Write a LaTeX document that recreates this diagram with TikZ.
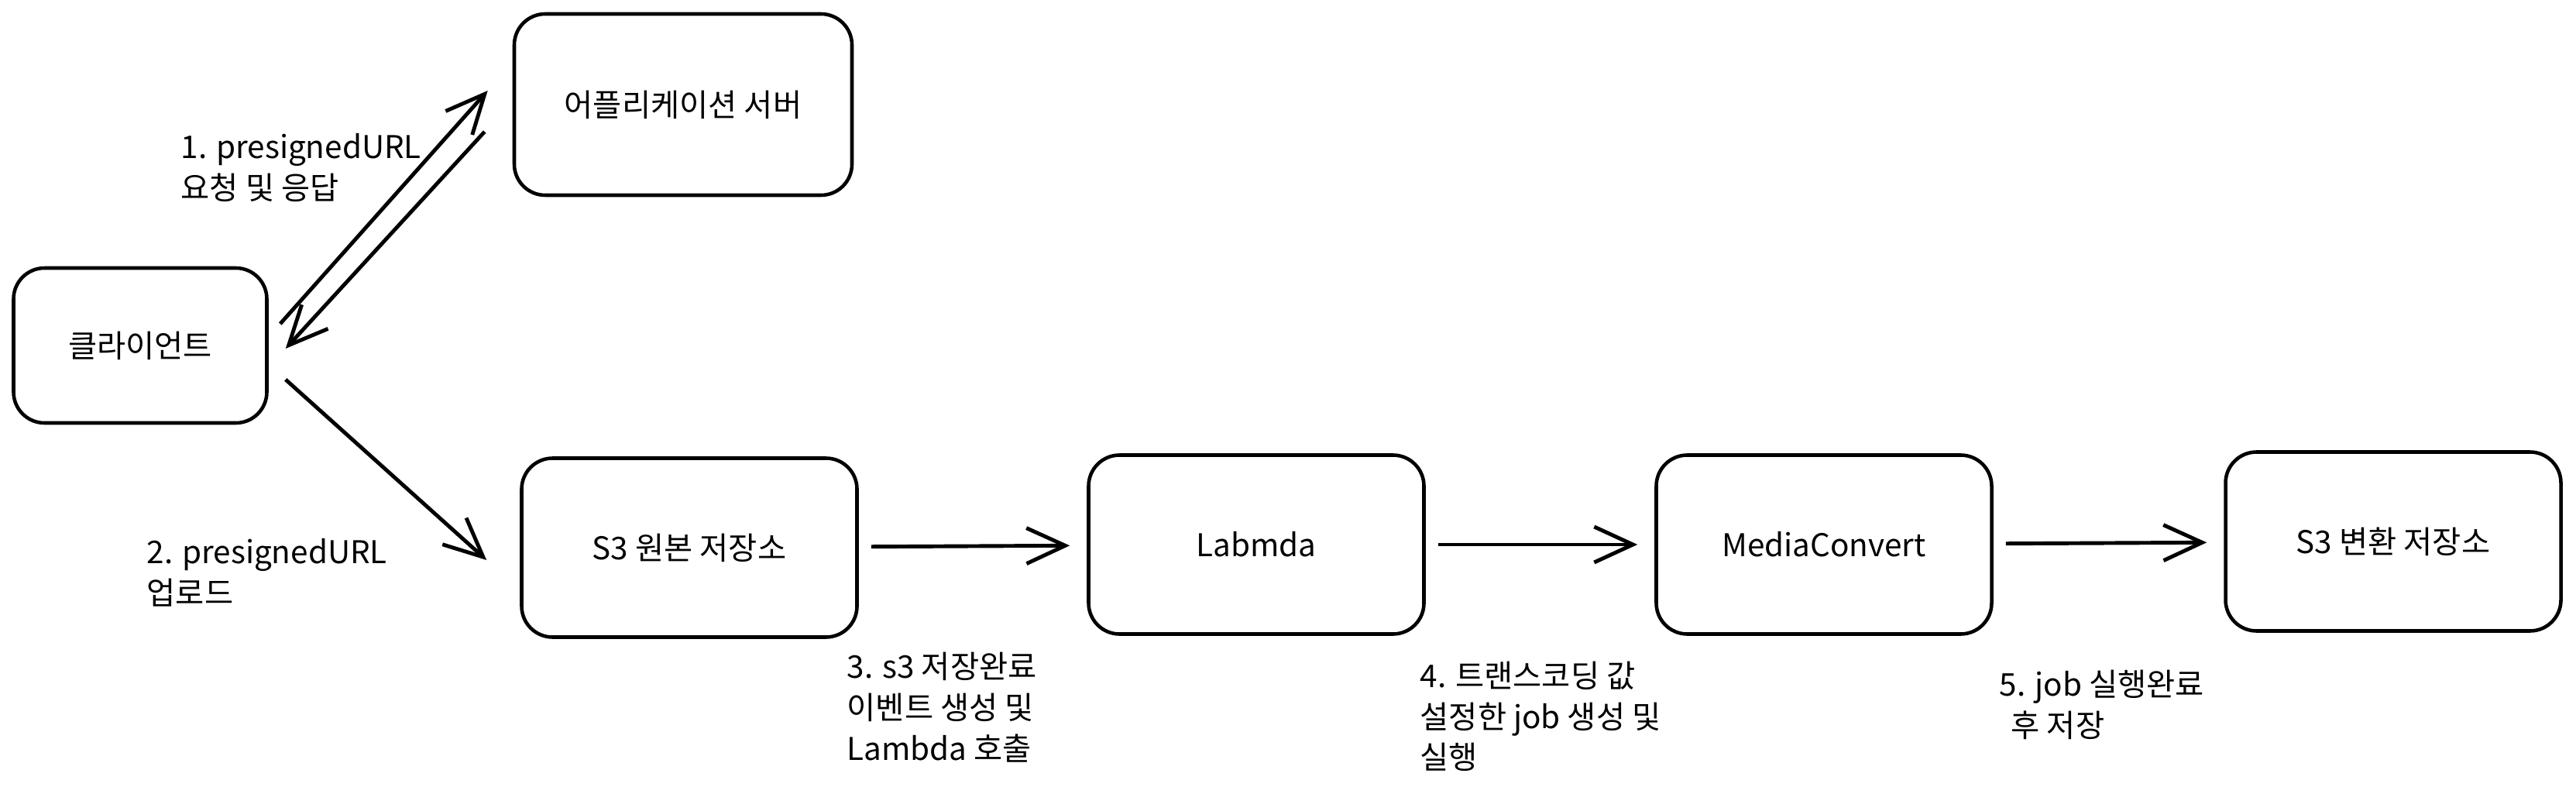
\documentclass[tikz,border=0pt]{standalone}
\usepackage{fontspec}
\setmainfont{Noto Sans CJK KR}
\usetikzlibrary{arrows.meta}

\begin{document}
\begin{tikzpicture}[box/.style={draw,rounded corners=0.4cm,line width=1.3pt,minimum width=4.33cm,minimum height=2.31cm},
  lbl/.style={anchor=west,align=left,inner sep=0pt},
  arr/.style={-{Straight Barb[length=0.5cm,width=0.46cm]},line width=1.4pt},
  every node/.style={font=\fontsize{11.5}{15}\selectfont}]
  \useasboundingbox (0,0) rectangle (33.26,-10.25);

  \node[box,minimum width=3.27cm,minimum height=2cm] (client) at (1.81,-4.46) {클라이언트};
  \node[box,minimum width=4.36cm,minimum height=2.34cm] (server) at (8.82,-1.35) {어플리케이션 서버};
  \node[box] (src) at (8.90,-7.07) {S3 원본 저장소};
  \node[box] (lambda) at (16.22,-7.03) {Labmda};
  \node[box] (mc) at (23.55,-7.03) {MediaConvert};
  \node[box] (dst) at (30.90,-6.99) {S3 변환 저장소};

  \draw[arr] ([shift={(0.15,0.28)}]client.east) -- ([shift={(-0.32,0.18)}]server.west);
  \draw[arr] ([shift={(-0.36,-0.35)}]server.west) -- ([shift={(0.22,-0.04)}]client.east);
  \draw[arr] ([shift={(0.22,-0.44)}]client.east) -- ([shift={(-0.43,-0.16)}]src.west);
  \foreach \a/\b in {src/lambda,lambda/mc,mc/dst}
    \draw[arr,shorten <=0.16cm,shorten >=0.22cm] (\a) -- (\b);

  \node[lbl] (l1) at (2.33,-2.165) {1. presignedURL\\요청 및 응답};
  \node[lbl] (l2) at (1.89,-7.39) {2. presignedURL\\업로드};
  \node[lbl] (l3) at (10.93,-9.13) {3. s3 저장완료\\이벤트 생성 및\\Lambda 호출};
  \node[lbl] (l4) at (18.33,-9.25) {4. 트랜스코딩 값\\설정한 job 생성 및\\실행};
  \node[lbl] (l5) at (25.81,-9.10) {5. job 실행완료\\\hspace{0.15cm}후 저장};
\end{tikzpicture}
\end{document}
